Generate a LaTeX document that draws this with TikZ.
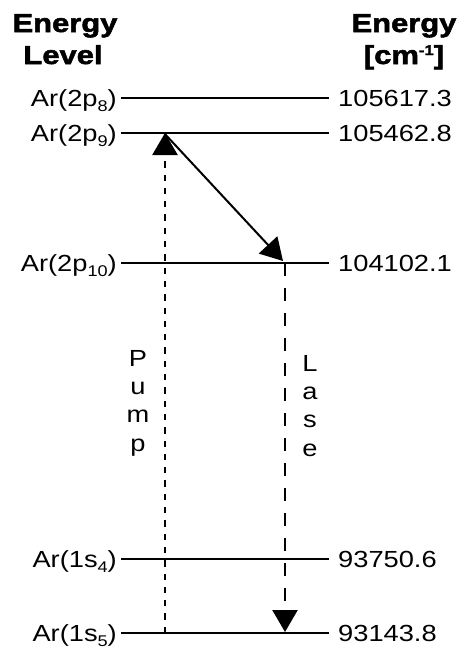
\documentclass[tikz,border=0pt]{standalone}
\usepackage{fontspec}
\setmainfont{Liberation Sans}[FakeStretch=1.17]
\newfontfamily\hdrfont{Liberation Sans Bold}[FakeStretch=1.19,FakeBold=2]
\usetikzlibrary{arrows.meta}
\newcommand{\sbs}[1]{\raisebox{-5.5pt}{\fontsize{15.5}{15.5}\selectfont #1}}
\newcommand{\sps}[1]{\raisebox{9pt}{\fontsize{14}{14}\selectfont #1}}
\tikzset{
  lvl/.style={line width=2pt},
  lbl/.style={anchor=base east, inner sep=0pt, font=\fontsize{23.3}{28}\selectfont},
  val/.style={anchor=base west, inner sep=0pt, font=\fontsize{23.3}{28}\selectfont},
  hdr/.style={anchor=base, inner sep=0pt, align=center, font=\hdrfont\fontsize{26}{32}\selectfont},
  vtxt/.style={anchor=north, inner sep=0pt, align=center, font=\fontsize{23.3}{28.3}\selectfont},
  bigtip/.style={-{Triangle[length=22pt,width=25pt]}},
  pumpline/.style={line width=2.5pt, dash pattern=on 6.3pt off 7pt, bigtip},
  laseline/.style={line width=2.5pt, dash pattern=on 13pt off 12pt, bigtip},
  diagline/.style={line width=2pt, bigtip}
}
\begin{document}
\begin{tikzpicture}[x=1pt,y=-1pt]
\useasboundingbox (0,0) rectangle (459,651);
% headers
\node[hdr] (hl1) at (65,32) {Energy};
\node[hdr] (hl2) at (63,64) {Level};
\node[hdr] (hr1) at (404,32) {Energy};
\node[hdr] (hr2) at (404,64) {[cm\sps{-1}]};
% level lines
\foreach \n/\y in {p8/98,p9/133,p10/263,s4/559,s5/633}{
  \coordinate (\n L) at (121,\y);
  \coordinate (\n R) at (329,\y);
  \draw[lvl] (\n L) -- (\n R);
}
% labels
\node[lbl] (l8) at (117,106.4) {Ar(2p\sbs{8})};
\node[lbl] (l9) at (117,141.4) {Ar(2p\sbs{9})};
\node[lbl] (l10) at (117,271.4) {Ar(2p\sbs{10})};
\node[lbl] (l4) at (117,567.4) {Ar(1s\sbs{4})};
\node[lbl] (l5) at (117,641.4) {Ar(1s\sbs{5})};
\node[val] (v8) at (338,106.4) {105617.3};
\node[val] (v9) at (338,141.4) {105462.8};
\node[val] (v10) at (338,271.4) {104102.1};
\node[val] (v4) at (338,567.4) {93750.6};
\node[val] (v5) at (338,641.4) {93143.8};
% transitions
\coordinate (pumpB) at (165,633);
\coordinate (pumpT) at (165,133);
\coordinate (diagS) at (164,133);
\coordinate (diagE) at (283,261);
\coordinate (laseT) at (285,263);
\coordinate (laseB) at (285,632);
\draw[pumpline] (pumpB) -- (pumpT);
\draw[diagline] (diagS) -- (diagE);
\draw[laseline] (laseT) -- (laseB);
% vertical texts
\node[vtxt] (pump) at (138,350) {P\\u\\m\\p};
\node[vtxt] (lase) at (310,355) {L\\a\\s\\e};
\end{tikzpicture}
\end{document}
